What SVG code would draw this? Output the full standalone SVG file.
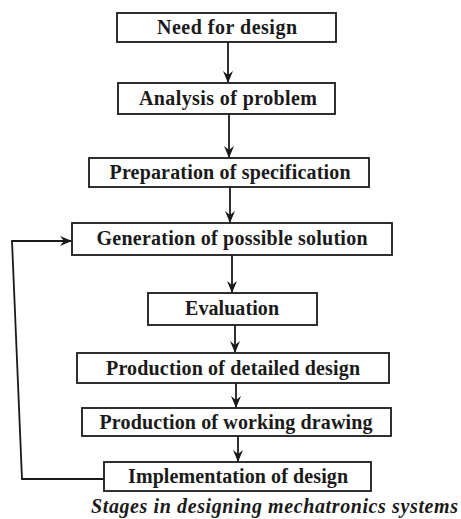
<svg xmlns="http://www.w3.org/2000/svg" width="461" height="519" viewBox="0 0 461 519">
<style>
.box{fill:#fff;stroke:#1a1a1a;stroke-width:1.8}
.lbl{font-family:"Liberation Serif","Times New Roman",serif;font-weight:bold;font-size:20px;fill:#1a1a1a;text-anchor:middle}
.con{fill:none;stroke:#1a1a1a;stroke-width:1.8}
.cap{font-family:"Liberation Serif","Times New Roman",serif;font-weight:bold;font-style:italic;font-size:20px;fill:#1a1a1a}
</style>
<defs>
<marker id="ah" viewBox="0 0 12 10" refX="11" refY="5" markerWidth="13" markerHeight="10" orient="auto" markerUnits="userSpaceOnUse">
<path d="M0,0 L12,5 L0,10 L4,5 z" fill="#1a1a1a"/>
</marker>
</defs>
<rect width="461" height="519" fill="#fff"/>
<g id="connectors">
<line class="con" x1="228" y1="42" x2="228" y2="82" marker-end="url(#ah)"/>
<line class="con" x1="229" y1="114" x2="229" y2="157" marker-end="url(#ah)"/>
<line class="con" x1="230" y1="187" x2="230" y2="222" marker-end="url(#ah)"/>
<line class="con" x1="232" y1="255" x2="232" y2="292" marker-end="url(#ah)"/>
<line class="con" x1="235" y1="325" x2="235" y2="352" marker-end="url(#ah)"/>
<line class="con" x1="236" y1="383" x2="236" y2="407" marker-end="url(#ah)"/>
<line class="con" x1="238" y1="436" x2="238" y2="461" marker-end="url(#ah)"/>
<polyline class="con" points="104,479 22,479 12,241 71,241" marker-end="url(#ah)"/>
</g>
<g id="n1"><rect class="box" x="117" y="13" width="219" height="29"/><text class="lbl" x="227" y="34" textLength="140">Need for design</text></g>
<g id="n2"><rect class="box" x="118" y="83" width="217" height="31"/><text class="lbl" x="228" y="105" textLength="178">Analysis of problem</text></g>
<g id="n3"><rect class="box" x="89" y="158" width="280" height="29"/><text class="lbl" x="230" y="179" textLength="241">Preparation of specification</text></g>
<g id="n4"><rect class="box" x="72" y="223" width="320" height="32"/><text class="lbl" x="232" y="245" textLength="271">Generation of possible solution</text></g>
<g id="n5"><rect class="box" x="148" y="293" width="169" height="32"/><text class="lbl" x="232" y="315" textLength="94">Evaluation</text></g>
<g id="n6"><rect class="box" x="77" y="353" width="312" height="30"/><text class="lbl" x="233" y="375" textLength="254">Production of detailed design</text></g>
<g id="n7"><rect class="box" x="82" y="408" width="309" height="28"/><text class="lbl" x="236" y="429" textLength="273">Production of working drawing</text></g>
<g id="n8"><rect class="box" x="104" y="462" width="267" height="29"/><text class="lbl" x="238" y="483" textLength="220">Implementation of design</text></g>
<text class="cap" x="91" y="513" textLength="367">Stages in designing mechatronics systems</text>
</svg>
